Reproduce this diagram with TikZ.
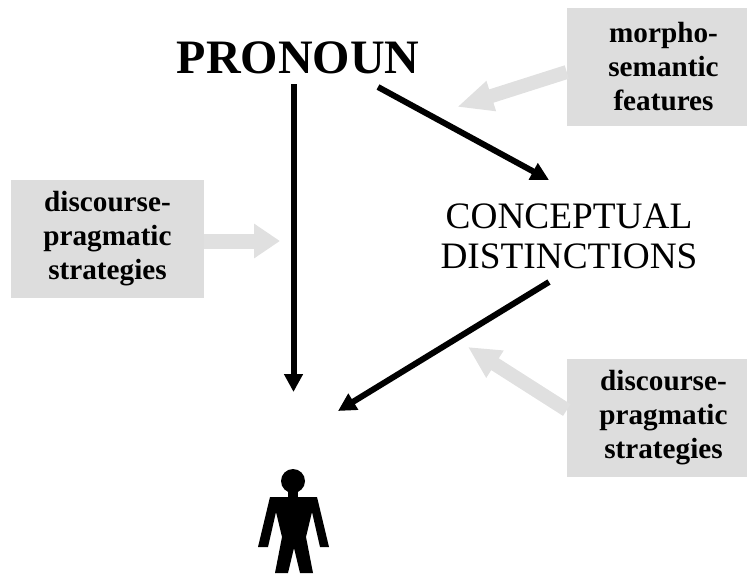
\documentclass[tikz,border=0pt]{standalone}
\usepackage{fontspec}
\setmainfont{Liberation Serif}
\usepackage{xcolor}
\usetikzlibrary{arrows.meta}
\definecolor{boxgray}{HTML}{DDDDDD}
\definecolor{pointergray}{HTML}{E0E0E0}
\tikzset{
    blackarrow/.style={line width=6pt,-{Triangle[length=18pt,width=18pt]}},
    grayarrow/.style={draw=pointergray,line width=#1},
    factorbox/.style={fill=boxgray,minimum width=#1,minimum height=118pt,inner sep=0pt,align=center,font=\fontsize{29.2}{34}\selectfont\bfseries}
}
\begin{document}
\begin{tikzpicture}[x=1pt,y=-1pt]
\useasboundingbox (0,0) rectangle (747,573);
\foreach \x/\y/\w/\p/\labeltext in {663.5/67/193pt/boxmorph/{morpho-\\semantic\\features}, 107.5/239/193pt/boxleft/{discourse-\\pragmatic\\strategies}, 663.5/418/193pt/boxright/{discourse-\\pragmatic\\strategies}}{
    \node[factorbox=\w] (\p) at (\x,\y) {\labeltext};
}
\node (pronoun) at (298,58) {\fontsize{48}{48}\selectfont\bfseries PRONOUN};
\node[align=center,font=\fontsize{37.3}{40}\selectfont] (concept) at (569,236) {CONCEPTUAL\\DISTINCTIONS};
\coordinate (pronouna) at (293.5,84);
\coordinate (pronounb) at (378,87);
\coordinate (concepta) at (549,180);
\coordinate (conceptb) at (549,282);
\coordinate (persona) at (293.5,392);
\coordinate (personb) at (338,411);
\coordinate (tipmorph) at (457,107);
\coordinate (tipleft) at (280,241);
\coordinate (tipright) at (468,347);
\draw[blackarrow] (pronouna) -- (persona);
\draw[blackarrow] (pronounb) -- (concepta);
\draw[blackarrow] (conceptb) -- (personb);
\draw[grayarrow=14pt,-{Triangle[length=36pt,width=29pt]}] (boxmorph.west |- 0,72) -- (tipmorph);
\draw[grayarrow=15pt,-{Triangle[length=26pt,width=33pt]}] (boxleft.east |- 0,241) -- (tipleft);
\draw[grayarrow=14pt,-{Triangle[length=32pt,width=30pt]}] (boxright.west |- 0,410) -- (tipright);
% person
\fill (293,481) circle (12);
\fill (288,490) rectangle (298,498);
\fill (270,497) -- (317,497) -- (329,547) -- (320,547) -- (312,512) -- (306,537) -- (313,573) -- (300,573) -- (294,548) -- (288,573) -- (275,573) -- (282,537) -- (276,512) -- (268,547) -- (258,547) -- cycle;
\end{tikzpicture}
\end{document}
